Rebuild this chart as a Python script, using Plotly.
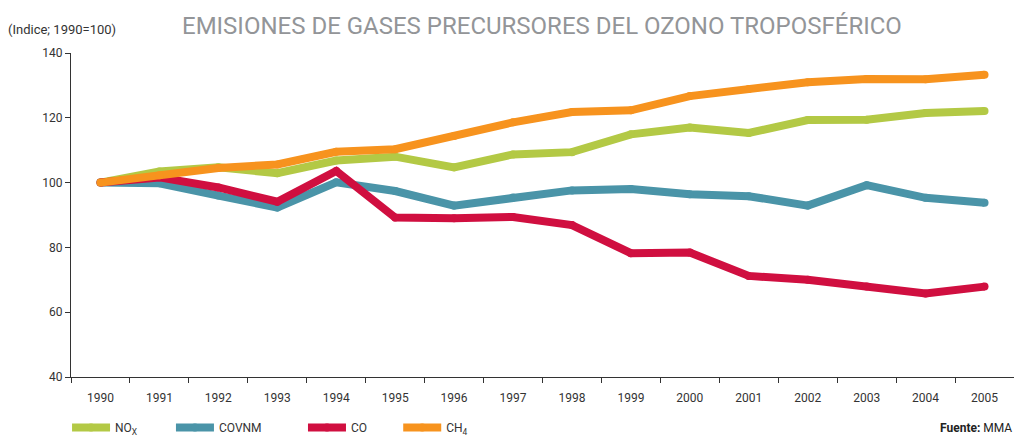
import plotly.graph_objects as go

years = [str(y) for y in range(1990, 2006)]
nox = [100, 103.4, 104.7, 102.9, 106.8, 108.0, 104.7, 108.7, 109.4, 114.9, 117.0, 115.3, 119.3, 119.4, 121.5, 122.1]
covnm = [100, 99.8, 96.0, 92.3, 100.1, 97.4, 92.9, 95.4, 97.6, 98.0, 96.4, 95.8, 92.9, 99.2, 95.3, 93.8]
co = [100, 101.6, 98.5, 94.1, 103.6, 89.2, 89.0, 89.4, 86.9, 78.2, 78.4, 71.2, 70.0, 67.9, 65.8, 67.9]
ch4 = [100, 102.3, 104.5, 105.6, 109.5, 110.3, 114.4, 118.6, 121.8, 122.3, 126.7, 128.9, 131.0, 132.0, 131.9, 133.3]

series = [
    ("NO<sub>X</sub>", nox, "#B3C945", "legend", -0.0042),
    ("COVNM", covnm, "#4A94A8", "legend2", 0.106),
    ("CO", co, "#D00F40", "legend3", 0.246),
    ("CH<sub>4</sub>", ch4, "#F7931E", "legend4", 0.347),
]

FONT = "Roboto"
fig = go.Figure()
for name, vals, color, lg, _ in series:
    fig.add_trace(go.Scatter(
        x=years, y=vals, name=name, mode="lines+markers",
        line=dict(color=color, width=8),
        marker=dict(color=color, size=8, line=dict(width=0)),
        legend=lg, hoverinfo="x+y",
    ))

LEG_Y = -0.156
layout_legends = {}
for name, vals, color, lg, xpos in series:
    layout_legends[lg] = dict(
        x=xpos, y=LEG_Y, xanchor="left", yanchor="middle",
        orientation="h", bgcolor="rgba(0,0,0,0)",
        font=dict(family=FONT, size=12, color="#333333"),
        itemwidth=38, tracegroupgap=0,
    )

PW = 943
fig.update_layout(
    width=1014, height=436,
    margin=dict(l=71, r=0, t=53, b=59, autoexpand=False),
    paper_bgcolor="white", plot_bgcolor="white",
    font=dict(family=FONT, size=12, color="#333333"),
    showlegend=True,
    **layout_legends,
    xaxis=dict(
        type="category", showgrid=False, zeroline=False,
        showline=True, linecolor="#333333", linewidth=1,
        ticks="outside", tickson="boundaries", ticklen=5, tickcolor="#333333",
        ticklabelstandoff=10,
        tickfont=dict(family=FONT, size=12, color="#333333"),
        range=[-0.5, 15.5],
    ),
    yaxis=dict(
        range=[40, 140], dtick=20, showgrid=False, zeroline=False,
        showline=True, linecolor="#333333", linewidth=1,
        ticks="outside", ticklen=5, tickcolor="#333333",
        tickfont=dict(family=FONT, size=12, color="#333333"),
    ),
    annotations=[
        dict(text="EMISIONES DE GASES PRECURSORES DEL OZONO TROPOSFÉRICO",
             xref="paper", yref="paper", x=0.499, y=1.0, yanchor="bottom",
             yshift=11, showarrow=False,
             font=dict(family=FONT, size=24, color="#939598")),
        dict(text="(Indice; 1990=100)", xref="paper", yref="paper",
             x=-71 / PW, xshift=6, y=1.0, yanchor="bottom", yshift=14, xanchor="left",
             showarrow=False, font=dict(family=FONT, size=13, color="#333333")),
        dict(text="<b>Fuente:</b> MMA", xref="paper", yref="paper",
             x=1.0, xanchor="right", xshift=0, y=LEG_Y, yanchor="middle", showarrow=False,
             font=dict(family=FONT, size=12, color="#222222")),
    ],
)

fig.write_html(
    "out.html",
    config={"displayModeBar": False},
    post_script="document.body.style.margin='0';document.body.style.overflow='hidden';",
)
